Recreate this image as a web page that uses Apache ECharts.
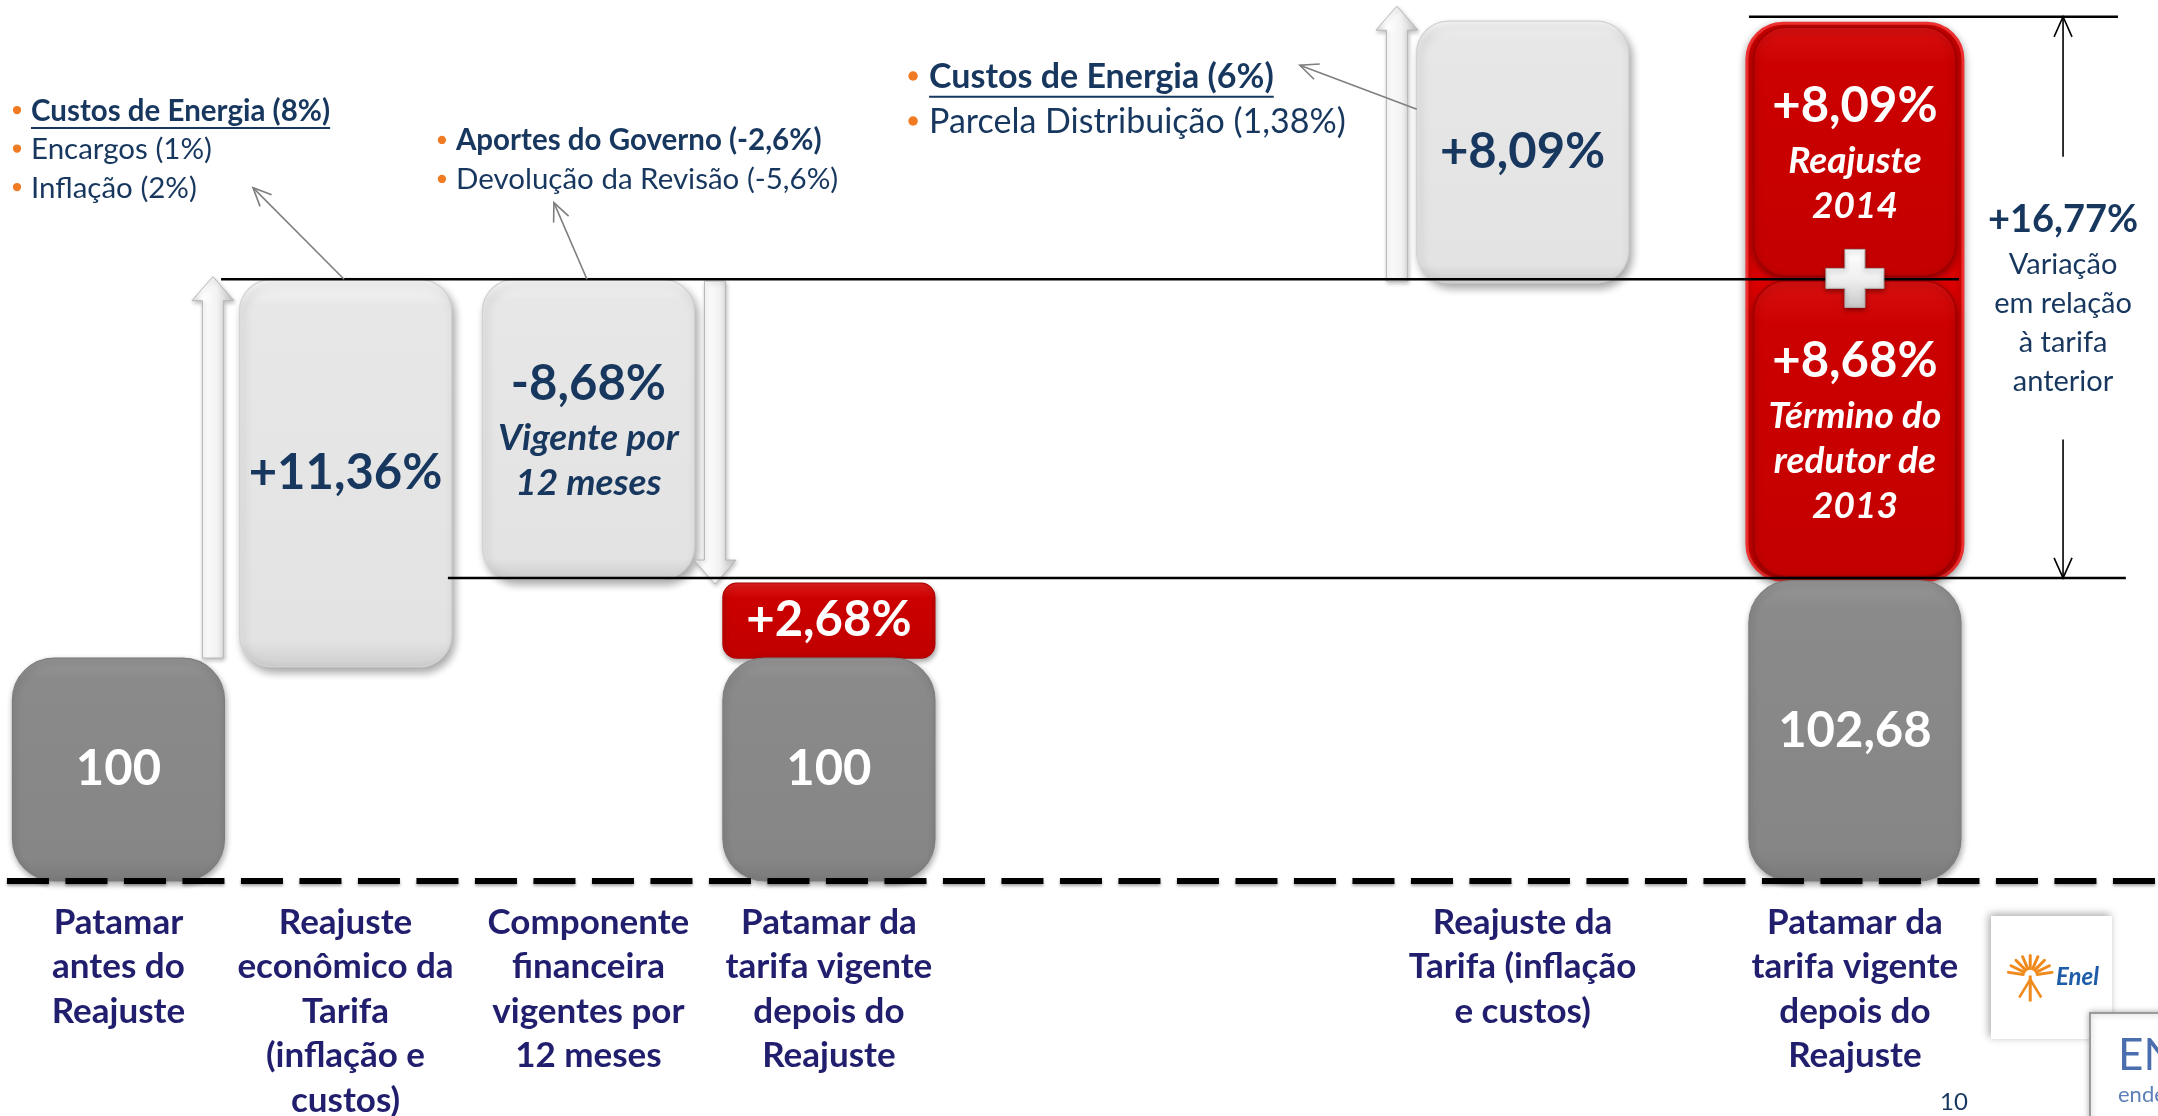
<!DOCTYPE html>
<html>
<head>
<meta charset="utf-8">
<title>Reajuste tarifário</title>
<style>
    html, body { margin: 0; padding: 0; background: #fff; }
    #chart { width: 2158px; height: 1116px; }
</style>
<script src="https://cdn.jsdelivr.net/npm/echarts@6/dist/echarts.min.js"></script>
</head>
<body>
<div id="chart"></div>
<script>
(function () {
    'use strict';

    // ---- data ----
    var categories = [
        'Patamar\nantes do\nReajuste',
        'Reajuste\neconômico da\nTarifa\n(inflação e\ncustos)',
        'Componente\nfinanceira\nvigentes por\n12 meses',
        'Patamar da\ntarifa vigente\ndepois do\nReajuste',
        'Reajuste da\nTarifa (inflação\ne custos)',
        'Patamar da\ntarifa vigente\ndepois do\nReajuste'
    ];

    // stylized levels (the slide is not drawn to scale)
    var barSlot  = [0, 1, 2, 3, 3, 4, 5, 5, 5];
    var barFrom  = [0, 24.3, 34.3, 25.3, 0, 67.9, 68.7, 34.6, 0];
    var barTo    = [25.3, 68.3, 68.3, 33.8, 25.3, 97.6, 96.9, 68.1, 34.1];
    var barKind  = ['base', 'step', 'step', 'extra', 'base', 'step', 'red', 'red', 'base'];
    var barValue = ['100', '+11,36%', '-8,68%', '+2,68%', '100', '+8,09%', '+8,09%', '+8,68%', '102,68'];
    var barNote  = ['', '', 'Vigente por\n12 meses', '', '', '', 'Reajuste\n2014', 'Término do\nredutor de\n2013', ''];

    var stepFrom = [25.3, 68.1, 68.1];
    var stepTo   = [68.6, 33.7, 99.3];

    var guideLevel = [68.3, 34.4, 98.1];

    var totalValue = '+16,77%';
    var totalNote = 'Variação\nem relação\nà tarifa\nanterior';

    var notes = [
        ['Custos de Energia (8%)', 'Encargos (1%)', 'Inflação (2%)'],
        ['Aportes do Governo (-2,6%)', 'Devolução da Revisão (-5,6%)'],
        ['Custos de Energia (6%)', 'Parcela Distribuição (1,38%)']
    ];

    // ---- layout (x in slot units, 9 across the page) ----
    var categoryPos = [0.494, 1.441, 2.454, 3.457, 6.350, 7.736];
    var stepX = [0.888, 2.982, 5.826];
    var guideX0 = [0.922, 1.868, 7.294];
    var guideX1 = [8.170, 8.866, 8.833];
    var totalX = 8.604, totalGapTop = 82.2, totalGapBottom = 50.1;
    var noteX = [0.071, 1.843, 3.808];
    var noteY = [87.4, 84.0, 91.26];
    var noteFont = [29.5, 29.5, 34];
    var noteGap = [38.5, 39, 45];
    var noteUnderline = [true, false, true];
    var notePtrFrom = [[1.435, 68.3], [2.448, 68.3], [5.909, 87.6]];
    var notePtrTo = [[1.055, 78.7], [2.310, 77.0], [5.421, 92.6]];

    var FONT = 'Lato, "Open Sans", sans-serif';
    var NAVY = '#17375e';
    var LABEL = '#211e6e';
    var ORANGE = '#f07b22';
    var BAR_W = 212;

    function vgrad(stops) {
        return new echarts.graphic.LinearGradient(0, 0, 0, 1, stops.map(function (s) {
            return { offset: s[0], color: s[1] };
        }));
    }

    var kindStyle = {
        base: {
            w: BAR_W, r: 42, text: '#fff',
            fill: vgrad([[0, '#969696'], [0.1, '#8a8a8a'], [0.9, '#868686'], [1, '#7a7a7a']]),
            stroke: '#7d7d7d', shadow: 'rgba(0,0,0,0.35)', blur: 6, sx: 1, sy: 3
        },
        step: {
            w: BAR_W, r: 32, text: NAVY,
            fill: vgrad([[0, '#f7f7f7'], [0.07, '#e7e7e7'], [0.93, '#e3e3e3'], [1, '#cdcdcd']]),
            stroke: '#d2d2d2', shadow: 'rgba(0,0,0,0.35)', blur: 9, sx: 3, sy: 5
        },
        extra: {
            w: BAR_W, r: 14, text: '#fff',
            fill: vgrad([[0, '#e52020'], [0.2, '#cc0000'], [1, '#c00000']]),
            stroke: '#b30000', shadow: 'rgba(0,0,0,0.35)', blur: 5, sx: 1, sy: 3
        },
        red: {
            w: BAR_W - 10, r: 32, text: '#fff',
            fill: vgrad([[0, '#d81010'], [0.15, '#cc0000'], [1, '#c40000']]),
            stroke: '#9c0000', shadow: 'rgba(60,0,0,0.55)', blur: 7, sx: 0, sy: 3
        }
    };

    var measureCtx = document.createElement('canvas').getContext('2d');
    function textWidth(text, font) {
        measureCtx.font = font;
        return measureCtx.measureText(text).width;
    }

    function arrowHead(x1, y1, x2, y2, len, color, lw) {
        var ang = Math.atan2(y2 - y1, x2 - x1);
        var a1 = ang + Math.PI - 0.42;
        var a2 = ang + Math.PI + 0.42;
        return {
            type: 'polyline',
            shape: { points: [
                [x2 + len * Math.cos(a1), y2 + len * Math.sin(a1)],
                [x2, y2],
                [x2 + len * Math.cos(a2), y2 + len * Math.sin(a2)]
            ] },
            style: { stroke: color, lineWidth: lw, fill: null }
        };
    }

    function pointer(p0, p1, color, lw, len) {
        return [
            { type: 'line', shape: { x1: p0[0], y1: p0[1], x2: p1[0], y2: p1[1] }, style: { stroke: color, lineWidth: lw } },
            arrowHead(p0[0], p0[1], p1[0], p1[1], len, color, lw)
        ];
    }

    // ---- render functions ----
    function renderRedFrame(params, api) {
        var lo = Infinity, hi = -Infinity, slot = 0;
        barKind.forEach(function (k, i) {
            if (k === 'red') {
                lo = Math.min(lo, barFrom[i]);
                hi = Math.max(hi, barTo[i]);
                slot = barSlot[i];
            }
        });
        var cx = api.coord([categoryPos[slot], 0])[0];
        var yt = api.coord([0, hi])[1] - 4;
        var yb = api.coord([0, lo])[1] + 4;
        var w = BAR_W + 4;
        return {
            type: 'rect',
            shape: { x: cx - w / 2, y: yt, width: w, height: yb - yt, r: 36 },
            style: {
                fill: '#dc0000', stroke: '#f03030', lineWidth: 3,
                shadowBlur: 8, shadowColor: 'rgba(0,0,0,0.35)', shadowOffsetY: 3
            }
        };
    }

    function renderBar(params, api) {
        var i = params.dataIndex;
        var st = kindStyle[barKind[i]];
        var cx = api.coord([categoryPos[barSlot[i]], 0])[0];
        var yt = api.coord([0, barTo[i]])[1];
        var yb = api.coord([0, barFrom[i]])[1];
        var text = '{v|' + barValue[i] + '}' + (barNote[i] ? '\n{n|' + barNote[i] + '}' : '');
        return {
            type: 'group',
            children: [{
                type: 'rect',
                shape: { x: cx - st.w / 2, y: yt, width: st.w, height: yb - yt, r: st.r },
                style: {
                    fill: st.fill, stroke: st.stroke, lineWidth: 1.2,
                    shadowBlur: st.blur, shadowColor: st.shadow,
                    shadowOffsetX: st.sx, shadowOffsetY: st.sy
                }
            }, {
                type: 'text',
                style: {
                    text: text, x: cx, y: (yt + yb) / 2,
                    align: 'center', verticalAlign: 'middle',
                    rich: {
                        v: { fontSize: 49, fontWeight: 'bold', fontFamily: FONT, fill: st.text, lineHeight: 64, align: 'center' },
                        n: { fontSize: 37, fontWeight: 'bold', fontStyle: 'italic', fontFamily: FONT, fill: st.text, lineHeight: 45, align: 'center' }
                    }
                }
            }]
        };
    }

    function renderStep(params, api) {
        var i = params.dataIndex;
        var cx = api.coord([stepX[i], 0])[0];
        var y0 = api.coord([0, stepFrom[i]])[1];
        var y1 = api.coord([0, stepTo[i]])[1];
        var dir = y1 < y0 ? 1 : -1;      // 1 = pointing up
        var hw = 10.5, hh = 21, hl = 24;
        var neck = y1 + dir * hl;
        return {
            type: 'polygon',
            shape: { points: [
                [cx - hw, y0], [cx - hw, neck], [cx - hh, neck], [cx, y1],
                [cx + hh, neck], [cx + hw, neck], [cx + hw, y0]
            ] },
            style: {
                fill: new echarts.graphic.LinearGradient(0, 0, 1, 0, [
                    { offset: 0, color: '#e2e2e2' }, { offset: 0.25, color: '#ffffff' },
                    { offset: 0.6, color: '#f2f2f2' }, { offset: 1, color: '#c4c4c4' }
                ]),
                stroke: '#b8b8b8', lineWidth: 1,
                shadowBlur: 4, shadowColor: 'rgba(0,0,0,0.25)', shadowOffsetX: 1, shadowOffsetY: 2
            }
        };
    }

    function renderGuide(params, api) {
        var i = params.dataIndex;
        var a = api.coord([guideX0[i], guideLevel[i]]);
        var b = api.coord([guideX1[i], guideLevel[i]]);
        return {
            type: 'line',
            shape: { x1: a[0], y1: a[1], x2: b[0], y2: b[1] },
            style: { stroke: '#000', lineWidth: 2.5 }
        };
    }

    function renderPlus(params, api) {
        var first = barKind.indexOf('red');
        var p = api.coord([categoryPos[barSlot[first]], (barFrom[first] + barTo[first + 1]) / 2]);
        var a = 29, t = 10;
        return {
            type: 'polygon',
            shape: { points: [
                [p[0] - t, p[1] - a], [p[0] + t, p[1] - a], [p[0] + t, p[1] - t], [p[0] + a, p[1] - t],
                [p[0] + a, p[1] + t], [p[0] + t, p[1] + t], [p[0] + t, p[1] + a], [p[0] - t, p[1] + a],
                [p[0] - t, p[1] + t], [p[0] - a, p[1] + t], [p[0] - a, p[1] - t], [p[0] - t, p[1] - t]
            ] },
            style: {
                fill: vgrad([[0, '#ffffff'], [0.5, '#f0f0f0'], [1, '#c8c8c8']]),
                stroke: '#b0b0b0', lineWidth: 1,
                shadowBlur: 5, shadowColor: 'rgba(0,0,0,0.4)', shadowOffsetY: 2
            }
        };
    }

    function renderBaseline(params, api) {
        var a = api.coord([0.029, 0]);
        var b = api.coord([9, 0]);
        return {
            type: 'line',
            shape: { x1: a[0], y1: a[1], x2: b[0], y2: b[1] },
            style: {
                stroke: '#000', lineWidth: 6, lineDash: [42, 16.5],
                shadowBlur: 3, shadowColor: 'rgba(0,0,0,0.35)', shadowOffsetY: 2
            }
        };
    }

    function renderCategory(params, api) {
        var i = params.dataIndex;
        var p = api.coord([categoryPos[i], 0]);
        return {
            type: 'text',
            style: {
                text: categories[i], x: p[0], y: p[1] + 19,
                align: 'center', verticalAlign: 'top',
                fontSize: 35, fontWeight: 'bold', fontFamily: FONT,
                fill: LABEL, lineHeight: 44.5
            }
        };
    }

    function renderNote(params, api) {
        var i = params.dataIndex;
        var p = api.coord([noteX[i], noteY[i]]);
        var fs = noteFont[i];
        var off = Math.round(fs * 0.48);
        var children = [];
        notes[i].forEach(function (line, k) {
            var y = p[1] + k * noteGap[i];
            var weight = k === 0 ? 'bold' : 'normal';
            children.push({
                type: 'circle',
                shape: { cx: p[0], cy: y - 1, r: fs * 0.14 },
                style: { fill: ORANGE }
            });
            children.push({
                type: 'text',
                style: {
                    text: line, x: p[0] + off, y: y,
                    align: 'left', verticalAlign: 'middle',
                    fontSize: fs, fontWeight: weight, fontFamily: FONT, fill: NAVY
                }
            });
            if (k === 0 && noteUnderline[i]) {
                var w = textWidth(line, 'bold ' + fs + 'px ' + FONT);
                children.push({
                    type: 'line',
                    shape: { x1: p[0] + off, y1: y + fs * 0.58, x2: p[0] + off + w, y2: y + fs * 0.58 },
                    style: { stroke: NAVY, lineWidth: 2 }
                });
            }
        });
        var from = api.coord(notePtrFrom[i]);
        var to = api.coord(notePtrTo[i]);
        children = children.concat(pointer(from, to, '#7f7f7f', 1.6, 20));
        return { type: 'group', children: children };
    }

    function renderTotal(params, api) {
        var top = api.coord([totalX, guideLevel[2]]);
        var gt = api.coord([totalX, totalGapTop]);
        var gb = api.coord([totalX, totalGapBottom]);
        var bottom = api.coord([totalX, guideLevel[1]]);
        var children = [].concat(
            pointer(gt, top, '#000', 1.6, 22),
            pointer(gb, bottom, '#000', 1.6, 22)
        );
        children.push({
            type: 'text',
            style: {
                text: '{v|' + totalValue + '}\n{n|' + totalNote + '}',
                x: top[0], y: (gt[1] + gb[1]) / 2,
                align: 'center', verticalAlign: 'middle',
                rich: {
                    v: { fontSize: 38, fontWeight: 'bold', fontFamily: FONT, fill: NAVY, lineHeight: 50, align: 'center' },
                    n: { fontSize: 29, fontFamily: FONT, fill: NAVY, lineHeight: 39, align: 'center' }
                }
            }
        });
        return { type: 'group', children: children };
    }

    function idx(arr) {
        return arr.map(function (d, i) { return [i, 0]; });
    }

    var chart = echarts.init(document.getElementById('chart'));

    chart.setOption({
        animation: false,
        grid: { left: 0, right: 0, top: 0, bottom: 235 },
        xAxis: { type: 'value', min: 0, max: 9, show: false },
        yAxis: { type: 'value', min: 0, max: 100, show: false },
        series: [
            { type: 'custom', name: 'frame', renderItem: renderRedFrame, data: [[0, 0]], clip: false, z: 1, silent: true },
            { type: 'custom', name: 'bars', renderItem: renderBar, data: idx(barValue), clip: false, z: 2 },
            { type: 'custom', name: 'steps', renderItem: renderStep, data: idx(stepX), clip: false, z: 3, silent: true },
            { type: 'custom', name: 'guides', renderItem: renderGuide, data: idx(guideLevel), clip: false, z: 4, silent: true },
            { type: 'custom', name: 'plus', renderItem: renderPlus, data: [[0, 0]], clip: false, z: 5, silent: true },
            { type: 'custom', name: 'baseline', renderItem: renderBaseline, data: [[0, 0]], clip: false, z: 5, silent: true },
            { type: 'custom', name: 'categories', renderItem: renderCategory, data: idx(categories), clip: false, z: 6, silent: true },
            { type: 'custom', name: 'notes', renderItem: renderNote, data: idx(notes), clip: false, z: 6, silent: true },
            { type: 'custom', name: 'total', renderItem: renderTotal, data: [[0, 0]], clip: false, z: 6, silent: true }
        ],
        graphic: [
            // Enel logo box
            {
                type: 'rect', left: 1991, top: 916, shape: { width: 121, height: 123 },
                style: { fill: '#fff', shadowBlur: 8, shadowColor: 'rgba(0,0,0,0.35)', shadowOffsetX: -2, shadowOffsetY: -2 }
            },
            {
                type: 'group', left: 2006, top: 953,
                children: [0, 1, 2, 3, 4, 5, 6, 7, 8].map(function (k) {
                    var a = Math.PI * (1.05 + k * 0.1125);
                    return {
                        type: 'line',
                        shape: { x1: 23 + 7 * Math.cos(a), y1: 20 + 7 * Math.sin(a), x2: 23 + 22 * Math.cos(a), y2: 20 + 20 * Math.sin(a) },
                        style: { stroke: '#f08a1c', lineWidth: 3, lineCap: 'round' }
                    };
                }).concat([
                    { type: 'line', shape: { x1: 23, y1: 20, x2: 23, y2: 46 }, style: { stroke: '#f08a1c', lineWidth: 3 } },
                    { type: 'line', shape: { x1: 23, y1: 24, x2: 12, y2: 42 }, style: { stroke: '#f08a1c', lineWidth: 2.5 } },
                    { type: 'line', shape: { x1: 23, y1: 24, x2: 34, y2: 42 }, style: { stroke: '#f08a1c', lineWidth: 2.5 } }
                ])
            },
            {
                type: 'text', left: 2056, top: 965,
                style: { text: 'Enel', fontSize: 24, fontWeight: 'bold', fontStyle: 'italic', fontFamily: FONT, fill: '#1d5ca8' }
            },
            // Endesa box (cut off at the page edge)
            {
                type: 'rect', left: 2089, top: 1012, shape: { width: 80, height: 110 },
                style: { fill: '#fff', stroke: '#9a9a9a', lineWidth: 2, shadowBlur: 6, shadowColor: 'rgba(0,0,0,0.3)' }
            },
            {
                type: 'text', left: 2118, top: 1034,
                style: { text: 'EN', fontSize: 44, fontFamily: FONT, fill: '#4b6fae' }
            },
            {
                type: 'text', left: 2118, top: 1084,
                style: { text: 'endesa', fontSize: 22, fontFamily: FONT, fill: '#5b7fb6' }
            },
            {
                type: 'text', left: 1940, top: 1090,
                style: { text: '10', fontSize: 24, fontFamily: FONT, fill: NAVY }
            }
        ]
    });
})();
</script>
</body>
</html>
